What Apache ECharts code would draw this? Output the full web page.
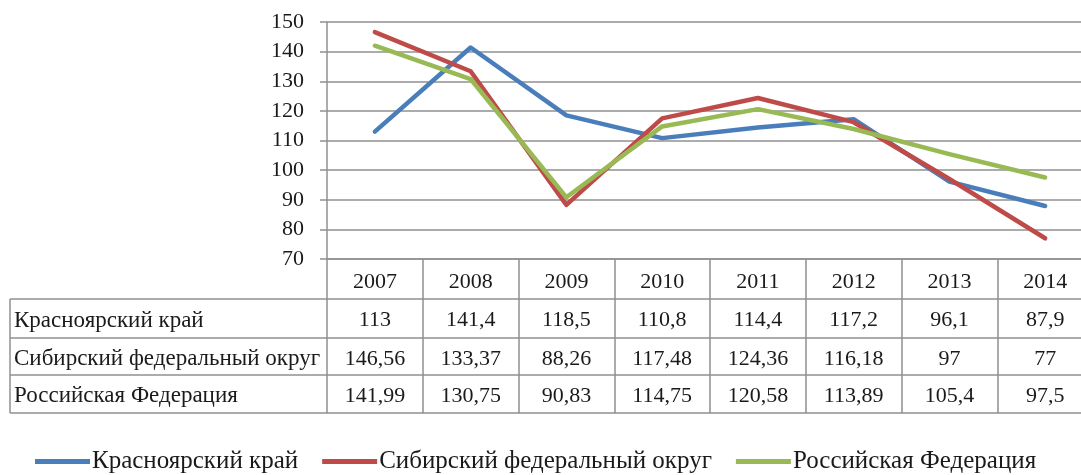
<!DOCTYPE html>
<html>
<head>
<meta charset="utf-8">
<script src="https://cdn.jsdelivr.net/npm/echarts@6/dist/echarts.min.js"></script>
<style>
  html, body { margin: 0; padding: 0; background: #fff; }
  #chart { width: 1081px; height: 475px; }
</style>
</head>
<body>
<div id="chart"></div>
<script>
var years = ['2007', '2008', '2009', '2010', '2011', '2012', '2013', '2014']
var seriesNames = ['Красноярский край', 'Сибирский федеральный округ', 'Российская Федерация']
var krasnoyarsk = [113, 141.4, 118.5, 110.8, 114.4, 117.2, 96.1, 87.9]
var siberia = [146.56, 133.37, 88.26, 117.48, 124.36, 116.18, 97, 77]
var russia = [141.99, 130.75, 90.83, 114.75, 120.58, 113.89, 105.4, 97.5]
var yTicks = [70, 80, 90, 100, 110, 120, 130, 140, 150]

var rows = [krasnoyarsk, siberia, russia]
var colors = ['#4a7ebb', '#be4b48', '#98b954']
var font = "'Liberation Serif', 'Times New Roman', serif"
var gridColor = '#909090'
var textColor = '#1a1a1a'

// строки таблицы: 40, 79, 116 px ниже оси X
var rowOffsets = [40, 79, 116]
var tableBottom = 154

function fmt (v) {
  return String(v).replace('.', ',')
}

var chart = echarts.init(document.getElementById('chart'))

var xAxes = [{
  type: 'category',
  data: years,
  boundaryGap: true,
  axisLine: { show: true, lineStyle: { color: gridColor, width: 1.5 } },
  axisTick: { show: true, interval: 0, length: tableBottom, lineStyle: { color: gridColor, width: 1.5 } },
  axisLabel: { interval: 0, margin: 12, fontSize: 22, fontFamily: font, color: textColor }
}]
rows.forEach(function (r, i) {
  xAxes.push({
    type: 'category',
    position: 'bottom',
    offset: rowOffsets[i],
    data: r.map(fmt),
    axisLine: { show: true, lineStyle: { color: gridColor, width: 1.5 } },
    axisTick: { show: false },
    axisLabel: { interval: 0, margin: 10, fontSize: 22, fontFamily: font, color: textColor }
  })
})
xAxes.push({
  type: 'category',
  position: 'bottom',
  offset: tableBottom,
  data: years,
  axisLine: { show: true, lineStyle: { color: gridColor, width: 1.5 } },
  axisTick: { show: false },
  axisLabel: { show: false }
})

var option = {
  animation: false,
  backgroundColor: '#fff',
  grid: {
    left: 327,
    right: -12,
    top: 22,
    bottom: 216,
    containLabel: false,
    outerBoundsMode: 'none'
  },
  legend: {
    left: 35,
    top: 449,
    padding: 0,
    icon: 'rect',
    itemWidth: 55,
    itemHeight: 5,
    itemGap: 24,
    data: seriesNames,
    textStyle: { fontSize: 25, fontFamily: font, color: textColor, padding: [0, 0, 0, -3] }
  },
  xAxis: xAxes,
  yAxis: {
    type: 'value',
    min: yTicks[0],
    max: yTicks[yTicks.length - 1],
    interval: 10,
    axisLine: { show: true, lineStyle: { color: gridColor, width: 1.5 } },
    axisTick: { show: true, length: 7, lineStyle: { color: gridColor, width: 1.5 } },
    axisLabel: { margin: 23, fontSize: 22, fontFamily: font, color: textColor },
    splitLine: { show: true, lineStyle: { color: gridColor, width: 1.5 } }
  },
  series: rows.map(function (r, i) {
    return {
      name: seriesNames[i],
      type: 'line',
      data: r,
      showSymbol: false,
      symbol: 'none',
      color: colors[i],
      lineStyle: { width: 4.5, color: colors[i], cap: 'round', join: 'round' }
    }
  })
}

chart.setOption(option)

// левая колонка таблицы с подписями строк
var axisY = chart.convertToPixel({ yAxisIndex: 0 }, yTicks[0])
var colLeft = 10
var colRight = chart.convertToPixel({ xAxisIndex: 0 }, years[0]) - 48
var tblTop = axisY + rowOffsets[0]
var tblBottom = axisY + tableBottom
var borderStyle = { stroke: gridColor, lineWidth: 1.5 }
var graphics = [
  { type: 'line', shape: { x1: colLeft, y1: tblTop, x2: colRight, y2: tblTop }, style: borderStyle },
  { type: 'line', shape: { x1: colLeft, y1: tblBottom, x2: colRight, y2: tblBottom }, style: borderStyle },
  { type: 'line', shape: { x1: colLeft, y1: tblTop, x2: colLeft, y2: tblBottom }, style: borderStyle }
]
var bounds = rowOffsets.concat([tableBottom])
seriesNames.forEach(function (name, i) {
  if (i > 0) {
    graphics.push({ type: 'line', shape: { x1: colLeft, y1: axisY + bounds[i], x2: colRight, y2: axisY + bounds[i] }, style: borderStyle })
  }
  graphics.push({
    type: 'text',
    x: colLeft + 4,
    y: axisY + (bounds[i] + bounds[i + 1]) / 2 + 2,
    style: {
      text: name,
      fontSize: 23,
      fontFamily: font,
      fill: textColor,
      verticalAlign: 'middle',
      align: 'left'
    }
  })
})
chart.setOption({ graphic: graphics })
</script>
</body>
</html>
